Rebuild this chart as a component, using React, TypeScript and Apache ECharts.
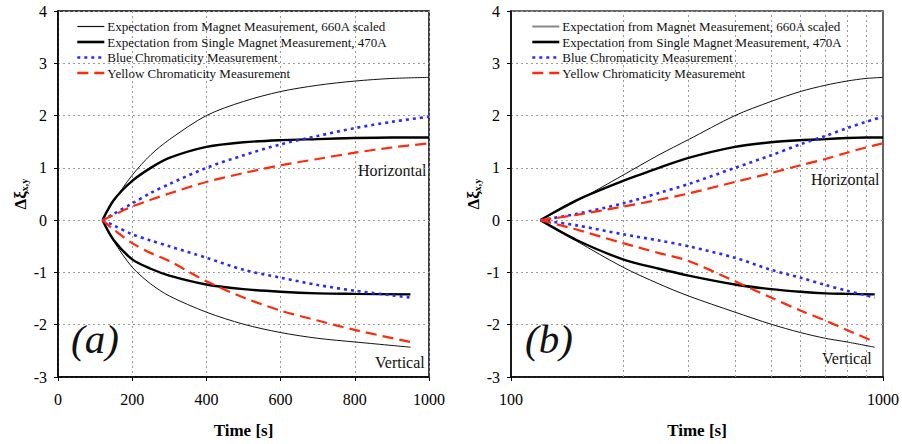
import React, { useEffect, useRef } from "react";
import * as echarts from "echarts";

// Horizontal chromaticity change (time in s)
const timeH = [120, 150, 200, 250, 300, 400, 500, 600, 700, 800, 900, 1000];
const magnet660H = [0, 0.36, 0.86, 1.25, 1.54, 2.0, 2.27, 2.46, 2.58, 2.66, 2.71, 2.73];
const single470H = [0, 0.38, 0.75, 1.0, 1.19, 1.4, 1.49, 1.53, 1.55, 1.57, 1.58, 1.58];
const blueH = [0, 0.12, 0.32, 0.52, 0.69, 1.0, 1.24, 1.45, 1.61, 1.76, 1.88, 1.98];
const yellowH = [0, 0.1, 0.26, 0.39, 0.51, 0.73, 0.9, 1.05, 1.17, 1.29, 1.39, 1.47];

// Vertical chromaticity change
const timeV = [120, 150, 200, 250, 300, 400, 500, 600, 700, 800, 950];
const magnet660V = [0, -0.4, -0.9, -1.22, -1.45, -1.76, -1.99, -2.15, -2.26, -2.33, -2.43];
const single470V = [0, -0.38, -0.75, -0.93, -1.06, -1.23, -1.32, -1.37, -1.4, -1.41, -1.42];
const blueV = [0, -0.1, -0.27, -0.39, -0.5, -0.72, -0.95, -1.1, -1.24, -1.35, -1.48];
const yellowV = [0, -0.18, -0.44, -0.63, -0.78, -1.17, -1.48, -1.73, -1.92, -2.1, -2.33];

const seriesNames = [
  "Expectation from Magnet Measurement, 660A scaled",
  "Expectation from Single Magnet Measurement, 470A",
  "Blue Chromaticity Measurement",
  "Yellow Chromaticity Measurement",
];

const yTicks = { min: -3, max: 4, interval: 1 };
const linearTicks = { min: 0, max: 1000, interval: 200 };
const logRange = { min: 100, max: 1000 };
const logGridLines = [200, 300, 400, 500, 600, 700, 800, 900];

const FONT = "Liberation Serif";

const styles = [
  { color: "#111", width: 1, type: "solid" },
  { color: "#000", width: 2.4, type: "solid" },
  { color: "#2a2aff", width: 2.6, type: [3, 4] },
  { color: "#ff2a0a", width: 2.2, type: [11, 6] },
];

const gridLine = { show: true, lineStyle: { color: "#999", width: 1, type: [2, 3] } };

function buildSeries(idx: number) {
  const hs = [magnet660H, single470H, blueH, yellowH];
  const vs = [magnet660V, single470V, blueV, yellowV];
  const out: any[] = [];
  for (let k = 0; k < 4; k++) {
    const common = {
      type: "line",
      name: seriesNames[k],
      xAxisIndex: idx,
      yAxisIndex: idx,
      symbol: "none",
      smooth: 0.3,
      lineStyle: { ...styles[k] },
      itemStyle: { color: styles[k].color },
      z: 3 + k,
    };
    out.push({ ...common, data: timeH.map((t, i) => [t, hs[k][i]]) });
    out.push({ ...common, data: timeV.map((t, i) => [t, vs[k][i]]) });
  }
  return out;
}

const labelStyle = {
  color: "#000",
  fontFamily: FONT,
  fontSize: 16,
};

function yAxis(idx: number) {
  return {
    type: "value",
    gridIndex: idx,
    ...yTicks,
    name: "{d|Δξ}{s|x,y}",
    nameLocation: "middle",
    nameGap: 28,
    nameTextStyle: {
      rich: {
        d: { fontFamily: FONT, fontSize: 17, fontWeight: "bold", color: "#000" },
        s: { fontFamily: FONT, fontSize: 10, fontWeight: "bold", color: "#000", padding: [8, 0, 0, 0] },
      },
    },
    axisLine: { show: true, onZero: false, lineStyle: { color: "#000", width: 1.5 } },
    axisTick: { show: true, inside: false, length: 4, lineStyle: { color: "#000" } },
    axisLabel: { ...labelStyle, margin: 11 },
    splitLine: gridLine,
  };
}

function xAxisCommon() {
  return {
    name: "Time [s]",
    nameLocation: "middle",
    nameGap: 45,
    nameTextStyle: { fontFamily: FONT, fontSize: 17, fontWeight: "bold", color: "#000" },
    axisLine: { show: true, onZero: false, lineStyle: { color: "#000", width: 1.5 } },
    axisTick: { show: true, length: 4, lineStyle: { color: "#000" } },
    axisLabel: { ...labelStyle, margin: 14, formatter: (v: number) => String(v) },
  };
}

export default function App() {
  const ref = useRef<HTMLDivElement>(null);
  useEffect(() => {
    document.body.style.margin = "0";
    const chart = echarts.init(ref.current!, null, { renderer: "svg" });
    const leftSeries = buildSeries(0);
    const rightSeries = buildSeries(1);
    rightSeries[0].markLine = {
      silent: true,
      symbol: ["none", "none"],
      label: { show: false },
      lineStyle: { color: "#999", width: 1, type: [2, 3] },
      data: logGridLines.map((v) => ({ xAxis: v })),
      z: 1,
    };
    const legendBase = {
      orient: "vertical",
      itemWidth: 27,
      itemHeight: 14,
      itemGap: 2.5,
      padding: 0,
      top: 20,
      selectedMode: false,
      itemStyle: { opacity: 0 },
      textStyle: { fontFamily: FONT, fontSize: 13, color: "#111", padding: [0, 0, 0, -2] },
    };
    const legendData = (firstColor: string, firstWidth: number) => [
      { name: seriesNames[0], lineStyle: { color: firstColor, width: firstWidth } },
      { name: seriesNames[1], lineStyle: { width: 2.6 } },
      { name: seriesNames[2], lineStyle: { width: 2.6 } },
      { name: seriesNames[3], lineStyle: { width: 2.4 } },
    ];
    const txt = (left: number, top: number, text: string, fontSize: number, italic = false) => ({
      type: "text",
      left,
      top,
      silent: true,
      style: {
        text,
        fontFamily: FONT,
        fontSize,
        fontStyle: italic ? "italic" : "normal",
        fill: "#111",
      },
    });
    chart.setOption({
      animation: false,
      backgroundColor: "#fff",
      textStyle: { fontFamily: FONT },
      grid: [
        { left: 58, top: 11, width: 371, height: 366, show: true, borderColor: "#000", borderWidth: 1.5 },
        { left: 511, top: 11, width: 372, height: 366, show: true, borderColor: "#333", borderWidth: 1.5 },
      ],
      xAxis: [
        { type: "value", gridIndex: 0, ...linearTicks, ...xAxisCommon(), splitLine: gridLine },
        { type: "log", logBase: 10, gridIndex: 1, ...logRange, ...xAxisCommon(), splitLine: { show: false } },
      ],
      yAxis: [yAxis(0), yAxis(1)],
      legend: [
        { ...legendBase, left: 76, data: legendData("#111", 1.2) },
        { ...legendBase, left: 531, data: legendData("#888", 2) },
      ],
      graphic: [
        txt(71, 318, "(a)", 41, true),
        txt(525, 318, "(b)", 41, true),
        txt(358, 162, "Horizontal", 16),
        txt(811, 171, "Horizontal", 16),
        txt(375, 354, "Vertical", 16),
        txt(822, 350, "Vertical", 16),
      ],
      series: [...leftSeries, ...rightSeries],
    });
    return () => chart.dispose();
  }, []);
  return <div ref={ref} style={{ width: 902, height: 444 }} />;
}
